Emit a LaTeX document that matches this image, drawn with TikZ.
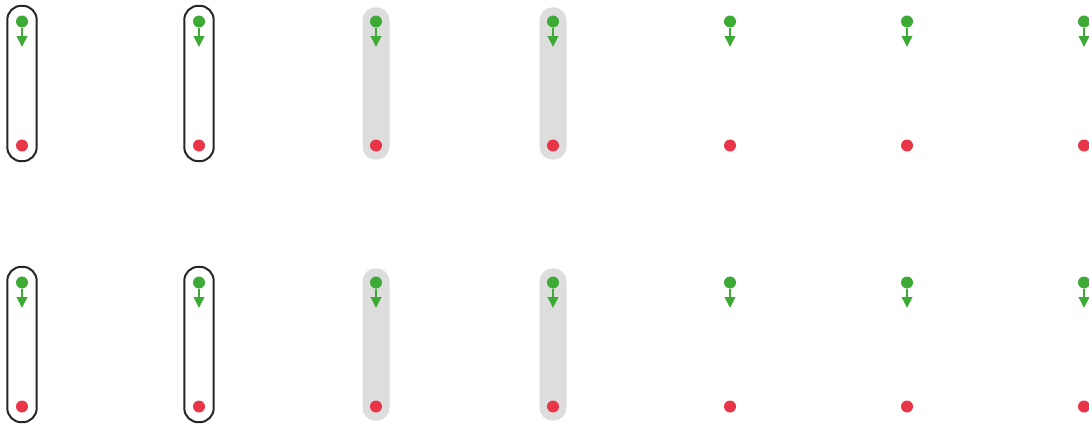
\documentclass[tikz,border=0pt]{standalone}
\usepackage{xcolor}
\usepackage{tikz}
\usetikzlibrary{arrows.meta, fit, backgrounds}
\definecolor{dotgreen}{RGB}{61,170,53}
\definecolor{dotred}{RGB}{232,54,72}
\definecolor{lanegray}{RGB}{221,221,221}
\tikzset{
    srcdot/.style={circle, fill=dotgreen, inner sep=0pt, minimum size=12pt},
    snkdot/.style={circle, fill=dotred, inner sep=0pt, minimum size=12pt},
    flow/.style={-{Triangle[length=11pt, width=10.5pt]}, line width=2pt, draw=dotgreen},
    outlinelane/.style={rectangle, rounded corners=14pt, draw=black!85, line width=2pt,
                        inner xsep=8.5pt, inner ysep=9.5pt},
    graylane/.style={rectangle, rounded corners=13pt, fill=lanegray,
                     inner xsep=7.3pt, inner ysep=8pt},
}

\begin{document}
\begin{tikzpicture}[x=1pt, y=-1pt]
    \useasboundingbox (0,0) rectangle (1089,423);
    % dots and arrows, two rows of seven
    \foreach \row/\yo in {1/0, 2/261} {
        \foreach \col in {1,...,7} {
            \pgfmathsetmacro\xc{22+177*(\col-1)}
            \node[srcdot] (g\row\col) at (\xc, 21.5+\yo) {};
            \node[snkdot] (r\row\col) at (\xc, 145.5+\yo) {};
            \coordinate (t\row\col) at (\xc, 47+\yo);
            \draw[flow] (g\row\col) -- (t\row\col);
        }
    }
    % lanes behind the first four columns
    \begin{scope}[on background layer]
        \foreach \row in {1,2} {
            \foreach \col in {1,2}
                \node[outlinelane, fit=(g\row\col)(r\row\col)] (lane\row\col) {};
            \foreach \col in {3,4}
                \node[graylane, fit=(g\row\col)(r\row\col)] (lane\row\col) {};
        }
    \end{scope}
\end{tikzpicture}
\end{document}
